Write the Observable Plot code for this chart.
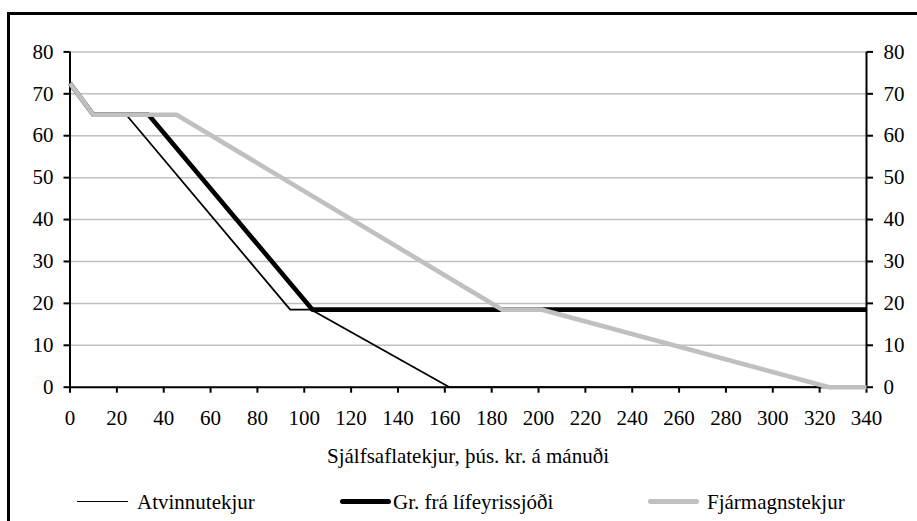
<!DOCTYPE html>
<html>
<head>
<meta charset="utf-8">
<script src="https://cdn.jsdelivr.net/npm/d3@7"></script>
<script src="https://cdn.jsdelivr.net/npm/@observablehq/plot@0.6"></script>
<style>
  html, body { margin: 0; padding: 0; background: #fff; overflow: hidden; width: 917px; height: 521px; }
  body { position: relative; font-family: "Liberation Serif", "DejaVu Serif", serif; color: #000; }
  #frame { position: absolute; left: 7px; top: 12px; width: 2000px; height: 2000px; border-top: 3px solid #000; border-left: 3px solid #000; }
  #chart { position: absolute; left: 0; top: 0; }
  #chart svg text { font-family: "Liberation Serif", "DejaVu Serif", serif; }
  .txt { position: absolute; font-size: 21px; line-height: 24px; white-space: nowrap; font-family: "Liberation Serif", "DejaVu Serif", serif; }
  .sample { position: absolute; border-radius: 3px; }
</style>
</head>
<body>
<div id="frame"></div>
<div id="chart"></div>
<div id="xtitle" class="txt" style="left:0; width:936px; text-align:center; top:444px;"></div>
<div id="legend"></div>
<script>
// ---- data ----
const xTicks = [0, 20, 40, 60, 80, 100, 120, 140, 160, 180, 200, 220, 240, 260, 280, 300, 320, 340];
const yTicks = [0, 10, 20, 30, 40, 50, 60, 70, 80];
const xTitle = "Sjálfsaflatekjur, þús. kr. á mánuði";
const seriesNames = ["Atvinnutekjur", "Gr. frá lífeyrissjóði", "Fjármagnstekjur"];

const atvX = [0, 10, 24, 94, 103, 162, 340];
const atvY = [72.5, 65, 65, 18.5, 18.5, 0, 0];
const lifX = [0, 10, 33.5, 103.5, 340];
const lifY = [72.5, 65, 65, 18.5, 18.5];
const fjaX = [0, 10, 45.5, 184.5, 201.5, 324, 340];
const fjaY = [72.5, 65, 65, 18.5, 18.5, 0, 0];

const seriesX = [atvX, lifX, fjaX];
const seriesY = [atvY, lifY, fjaY];
const seriesColor = ["#000000", "#000000", "#c0c0c0"];
const seriesWidth = [1.8, 4.6, 4.6];

const rows = seriesNames.map((name, i) => seriesX[i].map((x, j) => ({series: name, x, y: seriesY[i][j]})));

const lineMarks = rows.map((r, i) => Plot.line(r, {
  x: "x", y: "y", stroke: seriesColor[i], strokeWidth: seriesWidth[i],
  strokeLinejoin: "round", strokeLinecap: "butt"
}));

const plot = Plot.plot({
  width: 917,
  height: 480,
  marginLeft: 69.5,
  marginRight: 51,
  marginTop: 51.4,
  marginBottom: 93.3,
  x: {domain: [0, 340]},
  y: {domain: [0, 80]},
  style: {fontFamily: "'Liberation Serif', 'DejaVu Serif', serif", fontSize: "21px", color: "#000", background: "transparent", overflow: "visible"},
  marks: [
    Plot.ruleY(yTicks.filter(d => d > 0), {stroke: "#c0c0c0", strokeWidth: 1.5}),
    Plot.axisY({anchor: "left", ticks: yTicks, tickSize: 6, tickPadding: 10.5, label: null, strokeWidth: 2, fontSize: 21}),
    Plot.axisY({anchor: "right", ticks: yTicks, tickSize: 6, tickPadding: 11, label: null, strokeWidth: 2, fontSize: 21}),
    Plot.axisX({anchor: "bottom", ticks: xTicks, tickSize: 6, tickPadding: 17, label: null, strokeWidth: 2, fontSize: 21}),
    Plot.ruleX([0], {stroke: "#000", strokeWidth: 2}),
    Plot.ruleX([340], {stroke: "#000", strokeWidth: 2}),
    Plot.ruleY([0], {stroke: "#000", strokeWidth: 2}),
    ...lineMarks
  ]
});
document.getElementById("chart").appendChild(plot);

document.getElementById("xtitle").textContent = xTitle;

// ---- legend ----
const legendSampleLeft = [77, 340, 648];
const legendTextLeft = [137, 393, 707];
const legend = document.getElementById("legend");
seriesNames.forEach((name, i) => {
  const s = document.createElement("div");
  s.className = "sample";
  const h = seriesWidth[i];
  s.style.left = legendSampleLeft[i] + "px";
  s.style.width = "51px";
  s.style.top = (501.5 - h / 2) + "px";
  s.style.height = h + "px";
  s.style.background = seriesColor[i];
  if (i === 0) s.style.borderRadius = "0";
  legend.appendChild(s);
  const t = document.createElement("div");
  t.className = "txt";
  t.style.left = legendTextLeft[i] + "px";
  t.style.top = "490px";
  t.textContent = name;
  legend.appendChild(t);
});
</script>
</body>
</html>
